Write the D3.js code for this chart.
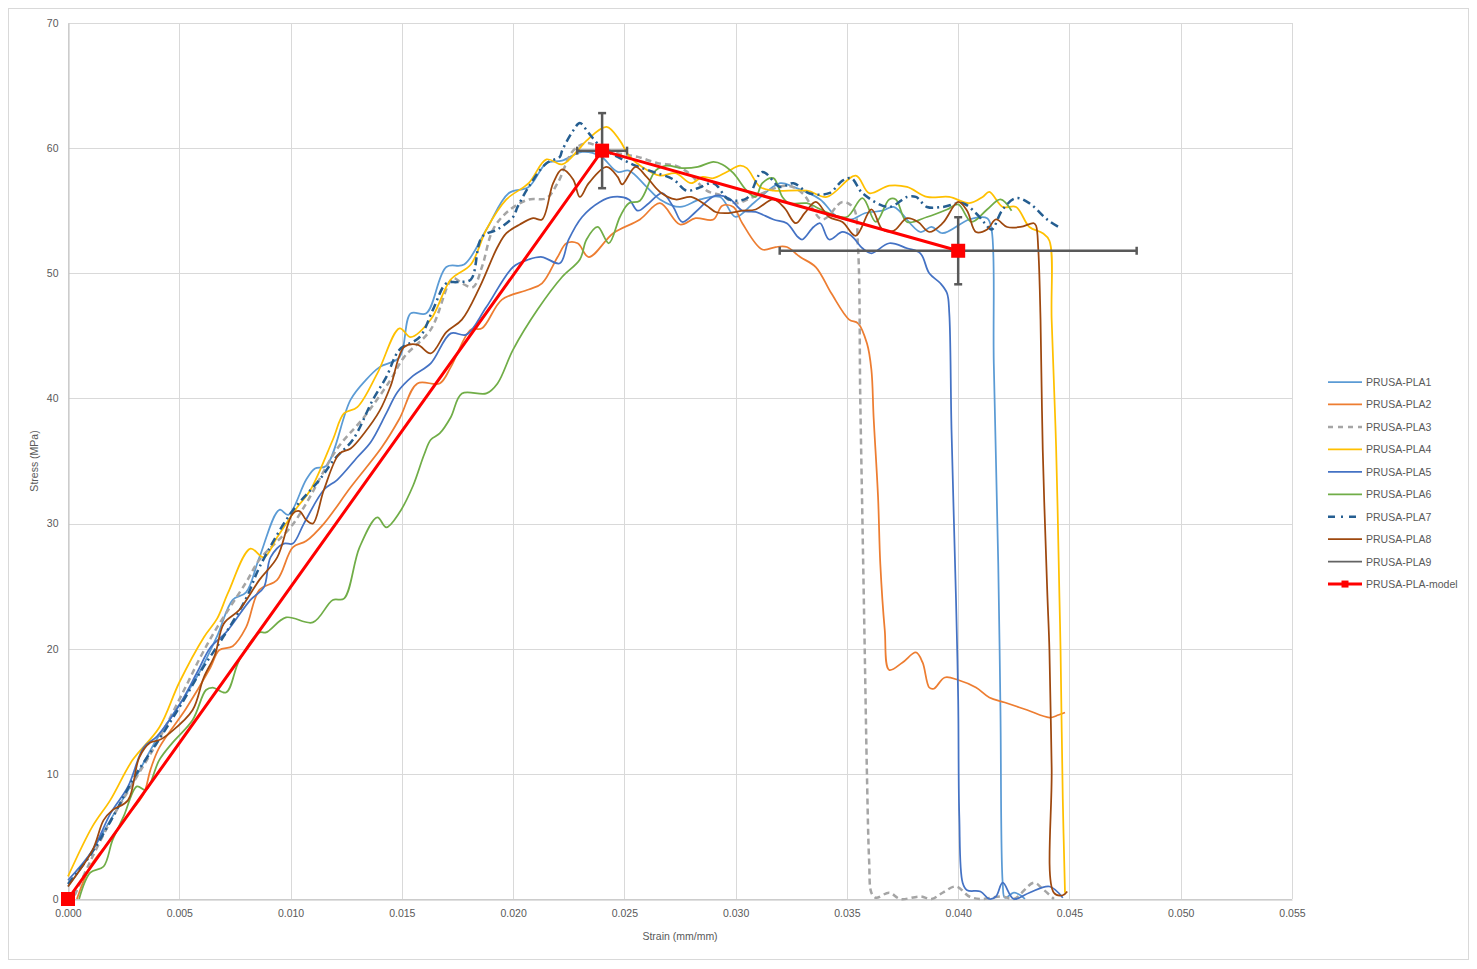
<!DOCTYPE html>
<html><head><meta charset="utf-8">
<script src="https://cdn.jsdelivr.net/npm/d3@7"></script>
<style>body{margin:0;background:#fff}text{font-family:"Liberation Sans",Arial,sans-serif}</style>
</head><body><svg id="c" width="1477" height="969"></svg>
<script>
const xTicks=[0,0.005,0.010,0.015,0.020,0.025,0.030,0.035,0.040,0.045,0.050,0.055];
const yTicks=[0,10,20,30,40,50,60,70];
const seriesNames=["PRUSA-PLA1","PRUSA-PLA2","PRUSA-PLA3","PRUSA-PLA4","PRUSA-PLA5","PRUSA-PLA6","PRUSA-PLA7","PRUSA-PLA8","PRUSA-PLA9","PRUSA-PLA-model"];
const seriesColors=["#5B9BD5","#ED7D31","#A5A5A5","#FFC000","#4472C4","#70AD47","#255E91","#9E480E","#636363","#FF0000"];

const pla1=[[0,1.0],[0.001,3.6],[0.002,6.6],[0.003,9.6],[0.004,12.8],[0.005,15.5],[0.0059,18.1],[0.0067,21.0],[0.0074,23.9],[0.008,24.5],[0.0086,27.3],[0.0095,31.1],[0.0099,30.7],[0.0107,33.5],[0.0111,34.4],[0.0116,34.6],[0.0127,39.9],[0.0134,41.5],[0.014,42.5],[0.0149,43.3],[0.0154,46.8],[0.0161,46.8],[0.017,50.5],[0.0178,50.7],[0.0188,53.5],[0.0198,56.4],[0.0207,56.9],[0.0215,58.8],[0.0222,59.0],[0.0231,59.7],[0.0239,59.4],[0.0247,58.1],[0.0252,58.2],[0.026,56.9],[0.0266,55.9],[0.0275,55.3],[0.0284,55.9],[0.0293,56.1],[0.0300,54.5],[0.0308,55.6],[0.032,57.2],[0.0326,56.9],[0.0338,55.9],[0.0345,54.6],[0.0352,54.3],[0.0358,54.8],[0.0366,55.0],[0.0371,55.3],[0.0383,53.3],[0.0388,53.7],[0.0393,53.2],[0.0405,54.3],[0.0413,54.4],[0.0415,53.5],[0.0416,42.8],[0.0418,26.8],[0.0419,15.0],[0.042,1.3],[0.0421,0.1],[0.0425,0.5],[0.0428,0.3],[0.043,0]];
const pla2=[[0.0004,0],[0.001,2.6],[0.0018,4.5],[0.0026,6.5],[0.0034,8.4],[0.0037,10.3],[0.0041,12.1],[0.0053,15.2],[0.0064,18.5],[0.0068,19.9],[0.0074,20.2],[0.008,21.7],[0.0086,24.7],[0.0094,25.5],[0.0101,28.1],[0.0107,28.6],[0.0115,30.0],[0.0127,32.9],[0.0141,36.1],[0.0149,38.4],[0.0157,41.2],[0.0167,41.2],[0.0172,42.5],[0.0181,45.5],[0.0186,45.6],[0.0195,47.9],[0.0207,48.7],[0.0213,49.2],[0.022,51.3],[0.0224,52.4],[0.0229,52.4],[0.0234,51.3],[0.0245,53.2],[0.0257,54.3],[0.0266,55.6],[0.0275,53.9],[0.0282,54.4],[0.029,54.3],[0.0294,55.4],[0.0299,55.3],[0.0303,54.0],[0.0312,51.9],[0.0318,52.1],[0.0323,52.1],[0.0329,51.3],[0.0336,50.5],[0.0343,48.4],[0.0351,46.3],[0.0355,46.0],[0.0359,44.4],[0.0361,42.3],[0.0362,38.5],[0.0364,32.1],[0.0365,26.8],[0.0367,21.5],[0.0369,18.3],[0.0375,18.9],[0.0381,19.7],[0.0384,18.9],[0.0387,16.9],[0.0389,16.8],[0.0394,17.7],[0.04,17.5],[0.0408,16.9],[0.0414,16.1],[0.0421,15.7],[0.0431,15.1],[0.0441,14.5],[0.0445,14.7],[0.0448,14.9]];
const pla3=[[0.0003,0.3],[0.001,3.0],[0.002,6.5],[0.003,9.5],[0.004,12.5],[0.0053,17.0],[0.006,19.5],[0.0067,21.7],[0.008,25.3],[0.0086,27.1],[0.01,29.7],[0.0107,31.6],[0.0121,36.0],[0.0133,38.5],[0.0145,41.5],[0.0151,43.3],[0.0163,45.5],[0.0173,49.6],[0.0177,49.2],[0.0182,48.9],[0.0186,50.5],[0.0191,53.5],[0.0198,55.0],[0.0207,55.9],[0.0215,56.0],[0.022,57.2],[0.0227,59.8],[0.0233,60.4],[0.024,60.0],[0.0247,59.6],[0.0256,59.3],[0.0265,58.8],[0.0273,58.6],[0.0279,58.0],[0.0287,56.6],[0.0294,56.2],[0.03,55.6],[0.0308,56.1],[0.0323,57.0],[0.033,56.4],[0.0339,54.3],[0.0348,55.7],[0.0353,55.2],[0.0355,52.0],[0.0356,40.0],[0.0357,30.0],[0.0358,20.0],[0.0359,10.0],[0.036,3.0],[0.0361,0.5],[0.0363,0.1],[0.0369,0.5],[0.0374,0],[0.0383,0.2],[0.0388,0],[0.0393,0.5],[0.0399,1.0],[0.0405,0.2],[0.041,0],[0.042,0.2],[0.0425,0],[0.0434,1.3],[0.0438,0.8],[0.0443,0]];
const pla4=[[0,1.8],[0.0011,5.8],[0.0019,7.9],[0.0029,11.1],[0.0041,13.7],[0.005,17.3],[0.0061,20.9],[0.0067,22.4],[0.0072,24.5],[0.0082,28.0],[0.0088,27.3],[0.0094,28.9],[0.0103,31.3],[0.0109,32.7],[0.0119,36.7],[0.0124,38.8],[0.013,39.3],[0.0139,42.0],[0.0149,45.6],[0.0154,44.9],[0.0163,46.3],[0.0172,49.5],[0.0181,50.7],[0.0188,53.5],[0.0197,55.9],[0.0207,57.2],[0.0215,59.1],[0.0222,58.7],[0.0229,59.8],[0.0233,60.6],[0.0242,61.7],[0.0248,60.6],[0.0252,59.4],[0.0258,58.5],[0.0266,57.8],[0.0273,58.0],[0.028,57.2],[0.0285,57.7],[0.029,57.6],[0.0296,58.1],[0.0302,58.6],[0.0305,58.4],[0.0311,56.9],[0.0317,56.6],[0.0332,56.6],[0.0341,56.1],[0.0354,57.8],[0.036,56.4],[0.0369,57.0],[0.0377,56.9],[0.0386,56.1],[0.0396,56.1],[0.0405,55.6],[0.0411,56.1],[0.0414,56.5],[0.042,55.3],[0.0426,55.3],[0.0432,53.7],[0.0438,53.2],[0.0441,52.6],[0.0442,46.3],[0.0444,36.1],[0.04455,24.1],[0.0446,19.9],[0.0447,8.0],[0.0448,0.5]];
const pla5=[[0,1.5],[0.0011,3.9],[0.0019,6.8],[0.0027,9.0],[0.0034,12.1],[0.004,13.0],[0.005,15.5],[0.0058,18.1],[0.0064,20.1],[0.0071,21.3],[0.0082,23.9],[0.0088,24.9],[0.0091,27.3],[0.0097,28.4],[0.0101,28.4],[0.0106,30.0],[0.0115,32.7],[0.0121,33.5],[0.013,35.3],[0.0136,36.5],[0.0143,38.8],[0.0148,40.5],[0.0155,41.8],[0.0163,42.8],[0.0172,45.2],[0.0179,45.1],[0.0188,47.3],[0.02,50.5],[0.0207,51.1],[0.0213,51.3],[0.0221,50.8],[0.0225,52.7],[0.0231,54.5],[0.0239,55.7],[0.0245,56.1],[0.0252,55.9],[0.0256,55.0],[0.0261,55.6],[0.0267,56.4],[0.0272,55.3],[0.0276,54.1],[0.0282,54.9],[0.0288,55.9],[0.0291,56.2],[0.0297,56.0],[0.0303,55.0],[0.0309,54.9],[0.0317,54.3],[0.0323,54.0],[0.0328,52.9],[0.033,52.7],[0.0335,53.7],[0.0338,54.0],[0.0342,52.7],[0.0348,53.3],[0.0352,53.0],[0.0357,52.0],[0.0361,51.6],[0.0369,52.4],[0.0377,52.0],[0.0383,51.6],[0.0387,50.0],[0.0392,49.2],[0.0395,48.4],[0.0396,46.8],[0.0397,37.5],[0.0399,24.1],[0.04,15.9],[0.04005,6.6],[0.0402,1.3],[0.0404,0.7],[0.041,0.6],[0.0414,0],[0.0417,0.2],[0.042,1.3],[0.0425,0],[0.0432,0.5],[0.0441,1.0],[0.0447,0.1]];
const pla6=[[0.0005,0],[0.001,2.1],[0.0016,2.6],[0.002,4.7],[0.0025,6.6],[0.0031,9.0],[0.0035,8.7],[0.0041,11.1],[0.0047,12.5],[0.0056,14.3],[0.0062,16.7],[0.0065,16.9],[0.0071,16.5],[0.0077,19.1],[0.0086,21.3],[0.0089,21.3],[0.0098,22.5],[0.011,22.1],[0.0119,23.9],[0.0124,24.0],[0.0131,28.1],[0.0139,30.5],[0.0143,29.7],[0.0149,30.9],[0.0155,33.0],[0.016,35.5],[0.0163,36.7],[0.0167,37.2],[0.0172,38.5],[0.0177,40.4],[0.0188,40.4],[0.0193,41.2],[0.02,43.9],[0.0211,47.1],[0.0222,49.7],[0.023,51.1],[0.0233,52.7],[0.0238,53.7],[0.0243,52.4],[0.0248,54.5],[0.0252,55.6],[0.0257,55.8],[0.0264,58.2],[0.0269,58.6],[0.0276,58.4],[0.0283,58.5],[0.029,58.9],[0.0294,58.7],[0.0299,58.0],[0.0305,56.6],[0.0309,56.1],[0.0312,57.2],[0.0317,57.6],[0.0321,56.1],[0.0324,55.6],[0.0332,55.6],[0.0336,55.3],[0.0342,54.8],[0.035,54.5],[0.0357,56.0],[0.0363,54.1],[0.0369,55.9],[0.0372,55.9],[0.0377,54.1],[0.0386,54.5],[0.0395,55.1],[0.04,55.5],[0.0406,54.1],[0.0413,55.1],[0.0419,55.9],[0.0424,55.0]];
const pla7=[[0,1.2],[0.001,3.5],[0.002,6.5],[0.003,9.8],[0.004,12.5],[0.005,15.3],[0.006,18.3],[0.007,21.0],[0.008,24.0],[0.0086,26.5],[0.01,30.8],[0.0113,33.5],[0.012,35.2],[0.0128,36.7],[0.0137,39.9],[0.0143,41.7],[0.0149,43.9],[0.0158,44.9],[0.0164,47.1],[0.017,49.2],[0.0175,49.3],[0.0181,49.5],[0.0186,52.9],[0.0193,53.5],[0.02,54.5],[0.0202,55.3],[0.0207,56.9],[0.0215,58.8],[0.0221,59.3],[0.0222,59.8],[0.0227,61.4],[0.023,62.0],[0.0234,61.2],[0.024,60.0],[0.0247,59.3],[0.0255,58.6],[0.0263,58.1],[0.0272,57.5],[0.0278,56.6],[0.0283,56.8],[0.029,57.2],[0.0297,55.9],[0.0305,56.0],[0.0312,58.1],[0.032,56.9],[0.0326,57.2],[0.0333,56.4],[0.0342,56.4],[0.0348,57.4],[0.0352,57.6],[0.0357,56.4],[0.0369,55.3],[0.0377,56.1],[0.0381,56.1],[0.0386,55.3],[0.0393,55.3],[0.0402,55.6],[0.0408,54.8],[0.0412,54.0],[0.0415,53.5],[0.042,55.1],[0.0426,56.0],[0.0432,55.6],[0.044,54.3],[0.0446,53.6]];
const pla8=[[0,1.0],[0.0011,3.9],[0.0016,6.3],[0.002,7.1],[0.0027,7.9],[0.0032,11.3],[0.0037,12.5],[0.0041,12.7],[0.0046,13.3],[0.0056,15.1],[0.0061,17.7],[0.0066,19.5],[0.007,22.0],[0.0077,23.1],[0.0086,25.5],[0.0094,27.3],[0.0101,30.8],[0.0104,31.0],[0.0107,30.3],[0.011,30.0],[0.0115,32.7],[0.0122,35.6],[0.0127,36.0],[0.0133,37.2],[0.014,39.0],[0.0145,41.0],[0.0151,44.1],[0.0157,44.3],[0.0163,43.6],[0.017,45.3],[0.0177,46.3],[0.0185,48.9],[0.0193,52.1],[0.0197,53.2],[0.0203,53.9],[0.0209,54.4],[0.0213,54.3],[0.0218,57.2],[0.0222,58.3],[0.0227,57.5],[0.023,56.1],[0.0234,57.2],[0.0242,58.5],[0.0247,57.7],[0.0249,57.1],[0.0255,58.5],[0.026,57.7],[0.0266,56.5],[0.0273,55.9],[0.028,56.1],[0.0287,55.4],[0.0291,54.9],[0.0296,54.8],[0.0303,55.0],[0.0309,55.1],[0.0317,55.9],[0.0322,55.2],[0.0327,54.0],[0.0331,54.8],[0.0336,55.7],[0.0342,54.5],[0.0348,54.1],[0.0354,53.0],[0.0361,55.1],[0.0366,53.5],[0.0371,53.4],[0.0377,54.4],[0.0382,54.1],[0.0387,53.3],[0.0393,54.0],[0.04,55.7],[0.0404,55.0],[0.0408,53.3],[0.0413,53.5],[0.0417,54.3],[0.0422,53.7],[0.0428,53.7],[0.0434,54.0],[0.0435,53.8],[0.0436,51.9],[0.0437,46.3],[0.0438,35.9],[0.044,24.7],[0.0441,19.9],[0.0442,10.5],[0.0443,0.5],[0.0447,0.3],[0.0449,0.6]];
const pla9=[];
const modelStrain=[0,0.024,0.040];
const modelStress=[0,59.8,51.8];
const modelErrX=[0,0.00112,0.00802];
const modelErrY=[0,3.0,2.68];

const seriesData=[pla1,pla2,pla3,pla4,pla5,pla6,pla7,pla8,pla9];
const dashes=[null,null,"6,4",null,null,null,"8,4,2,4",null,null];
const widths=[1.75,1.75,2.5,1.75,1.75,1.75,2.5,1.75,1.75];

const svg=d3.select("#c");
const L=68,R=1292,T=23,B=899;
const x=d3.scaleLinear().domain([0,0.055]).range([L,R]);
const y=d3.scaleLinear().domain([0,70]).range([B,T]);
const txt="#595959";
const fs="10.5px";

svg.append("rect").attr("x",8.5).attr("y",8.5).attr("width",1460).attr("height",951).attr("fill","#fff").attr("stroke","#D9D9D9");

svg.append("g").selectAll("line").data(yTicks).join("line")
 .attr("x1",L).attr("x2",R).attr("y1",d=>Math.round(y(d))+0.5).attr("y2",d=>Math.round(y(d))+0.5)
 .attr("stroke","#D9D9D9").attr("stroke-width",1);
svg.append("g").selectAll("line").data(xTicks).join("line")
 .attr("y1",T).attr("y2",B).attr("x1",d=>Math.round(x(d))+0.5).attr("x2",d=>Math.round(x(d))+0.5)
 .attr("stroke","#D9D9D9").attr("stroke-width",1);

const xa=svg.append("g").attr("transform",`translate(0,${B+0.5})`).call(d3.axisBottom(x).tickValues(xTicks).tickFormat(d3.format(".3f")).tickSize(0).tickPadding(10));
const ya=svg.append("g").attr("transform",`translate(${L+0.5},0)`).call(d3.axisLeft(y).tickValues(yTicks).tickFormat(d3.format("d")).tickSize(0).tickPadding(10));
[xa,ya].forEach(a=>{a.select(".domain").attr("stroke","#BFBFBF");a.selectAll("text").attr("fill",txt).style("font-size",fs).style("font-family","'Liberation Sans',Arial,sans-serif");});

svg.append("text").attr("x",680).attr("y",940).attr("text-anchor","middle").attr("fill",txt).style("font-size",fs).text("Strain (mm/mm)");
svg.append("text").attr("transform","translate(38,461) rotate(-90)").attr("text-anchor","middle").attr("fill",txt).style("font-size",fs).text("Stress (MPa)");

const line=d3.line().x(d=>x(d[0])).y(d=>y(d[1])).curve(d3.curveCatmullRom.alpha(0.5));
const gS=svg.append("g");
seriesData.forEach((s,i)=>{
  if(!s.length) return;
  gS.append("path").attr("d",line(s)).attr("fill","none").attr("stroke",seriesColors[i])
    .attr("stroke-width",widths[i]).attr("stroke-dasharray",dashes[i]).attr("stroke-linejoin","round");
});

const model=modelStrain.map((s,i)=>({sx:s,sy:modelStress[i],ex:modelErrX[i],ey:modelErrY[i]}));
const eb=svg.append("g").attr("stroke","#595959").attr("stroke-width",2.5);
model.filter(d=>d.ex>0||d.ey>0).forEach(d=>{
  eb.append("line").attr("x1",x(d.sx-d.ex)).attr("x2",x(d.sx+d.ex)).attr("y1",y(d.sy)).attr("y2",y(d.sy));
  eb.append("line").attr("x1",x(d.sx)).attr("x2",x(d.sx)).attr("y1",y(d.sy-d.ey)).attr("y2",y(d.sy+d.ey));
  [d.sx-d.ex,d.sx+d.ex].forEach(v=>eb.append("line").attr("x1",x(v)).attr("x2",x(v)).attr("y1",y(d.sy)-4).attr("y2",y(d.sy)+4));
  [d.sy-d.ey,d.sy+d.ey].forEach(v=>eb.append("line").attr("y1",y(v)).attr("y2",y(v)).attr("x1",x(d.sx)-4).attr("x2",x(d.sx)+4));
});
svg.append("path").attr("d",d3.line().x(d=>x(d.sx)).y(d=>y(d.sy))(model)).attr("fill","none").attr("stroke","#FF0000").attr("stroke-width",3);
svg.append("g").selectAll("rect").data(model).join("rect")
 .attr("x",d=>x(d.sx)-7).attr("y",d=>y(d.sy)-7).attr("width",14).attr("height",14).attr("fill","#FF0000");

const lg=svg.append("g");
seriesNames.forEach((n,i)=>{
  const yy=382+i*22.45;
  const isModel=i===9;
  lg.append("line").attr("x1",1328).attr("x2",1362).attr("y1",yy).attr("y2",yy)
    .attr("stroke",seriesColors[i]).attr("stroke-width",isModel?3:(widths[i]))
    .attr("stroke-dasharray",i===2?"5,5":(i===6?"7,6,2,6":null));
  if(isModel) lg.append("rect").attr("x",1345-3.5).attr("y",yy-3.5).attr("width",7).attr("height",7).attr("fill","#FF0000");
  lg.append("text").attr("x",1366).attr("y",yy+4).attr("fill",txt).style("font-size",fs).text(n);
});
</script></body></html>
